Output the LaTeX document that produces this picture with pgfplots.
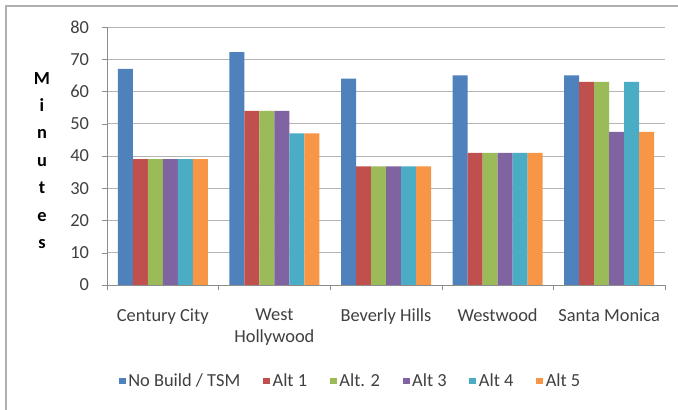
\documentclass[border=0pt]{standalone}
\usepackage{pgfplots}
\pgfplotsset{compat=1.18}
\usepackage{fontspec}
\setmainfont{Carlito}
\definecolor{c1}{HTML}{4F81BD}
\definecolor{c2}{HTML}{C0504D}
\definecolor{c3}{HTML}{9BBB59}
\definecolor{c4}{HTML}{8064A2}
\definecolor{c5}{HTML}{4BACC6}
\definecolor{c6}{HTML}{F79646}
\definecolor{txt}{HTML}{404040}
\definecolor{gridc}{HTML}{B4B4B4}
\definecolor{axc}{HTML}{8C8C8C}
\begin{document}
\begin{tikzpicture}
\fill[white] (0,0) rectangle (508.5pt,307.5pt);
\path[use as bounding box] (0,0) rectangle (508.5pt,307.5pt);
\draw[color=axc!70, line width=1.1pt] (4.5pt,0) -- (4.5pt,303pt) -- (508.5pt,303pt);
\begin{axis}[
  at={(80.25pt,93.75pt)}, anchor=south west,
  scale only axis, width=418.5pt, height=193.5pt,
  ybar=0pt, bar width=11.25pt,
  xmin=-0.5, xmax=4.5, ymin=0, ymax=80,
  xtick={0,1,2,3,4},
  xticklabels={Century City, West\\Hollywood, Beverly Hills, Westwood, Santa Monica},
  minor xtick={-0.5,0.5,1.5,2.5,3.5,4.5},
  xtick style={draw=none},
  minor x tick style={draw=axc},
  minor tick length=4pt,
  ytick={0,10,...,80},
  ytick style={draw=axc},
  major tick length=4pt,
  tick align=outside,
  axis x line*=bottom, axis y line*=left,
  axis line style={draw=axc, -},
  ymajorgrids, grid style={gridc, line width=0.6pt},
  font=\fontsize{13.8}{16.5}\selectfont,
  tick label style={text=txt, font=\fontsize{13.8}{16.5}\selectfont},
  xticklabel style={align=center, yshift=-10pt},
  yticklabel style={xshift=-6pt},
  /pgf/number format/assume math mode=true,
  ylabel={M\\[3.2pt]i\\[3.2pt]n\\[3.2pt]u\\[3.2pt]t\\[3.2pt]e\\[3.2pt]s},
  ylabel style={rotate=-90, align=center, font=\fontsize{13.8}{17.4}\selectfont\bfseries, text=black,
    at={(axis description cs:0,0.5)}, anchor=center, xshift=-48.75pt, yshift=-3.4pt},
  legend columns=-1,
  legend style={at={(0.437,-0.372)}, anchor=center, draw=none, fill=none,
    font=\fontsize{13.8}{16.5}\selectfont, text=txt,
    /tikz/every even column/.append style={column sep=15pt}},
  legend image code/.code={\fill[#1] (0pt,-2.6pt) rectangle (5.2pt,2.6pt);},
]
\addplot[fill=c1, draw=none] coordinates {(0,67) (1,72.2) (2,64) (3,65) (4,65)};
\addplot[fill=c2, draw=none] coordinates {(0,39) (1,54) (2,36.8) (3,41) (4,63)};
\addplot[fill=c3, draw=none] coordinates {(0,39) (1,54) (2,36.8) (3,41) (4,63)};
\addplot[fill=c4, draw=none] coordinates {(0,39) (1,54) (2,36.8) (3,41) (4,47.5)};
\addplot[fill=c5, draw=none] coordinates {(0,39) (1,47) (2,36.8) (3,41) (4,63)};
\addplot[fill=c6, draw=none] coordinates {(0,39) (1,47) (2,36.8) (3,41) (4,47.5)};
\legend{No Build / TSM, Alt 1, Alt. 2, Alt 3, Alt 4, Alt 5}
\end{axis}
\end{tikzpicture}
\end{document}
